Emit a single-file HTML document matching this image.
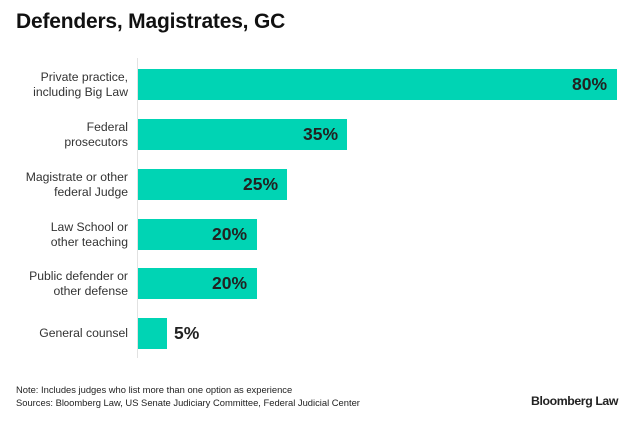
<!DOCTYPE html>
<html><head><style>
body{margin:0;width:633px;height:421px;background:#fff;font-family:"Liberation Sans",sans-serif;position:relative;overflow:hidden}
.t{position:absolute;left:16px;top:10px;font-size:21px;font-weight:bold;color:#111;letter-spacing:-0.2px}
.ax{position:absolute;left:137px;top:58px;width:1px;height:300px;background:#e2e2e2}
.b{position:absolute;left:138px;height:31px;background:#00d4b4}
.v{position:absolute;font-size:17.5px;font-weight:bold;color:#222;line-height:31px}
.l{position:absolute;right:505px;width:140px;text-align:right;font-size:12.2px;color:#333;line-height:15px}
.n{position:absolute;left:16px;font-size:9.4px;color:#222}
.bl{position:absolute;left:531px;top:394px;font-size:12.3px;color:#222;font-weight:bold;letter-spacing:-0.4px}
</style></head><body>
<div class="t">Defenders, Magistrates, GC</div>
<div class="ax"></div>
<div class="b" style="top:69px;width:479px"></div><div class="v" style="top:69px;left:572px">80%</div>
<div class="b" style="top:119px;width:209px"></div><div class="v" style="top:119px;left:303px">35%</div>
<div class="b" style="top:169px;width:149px"></div><div class="v" style="top:169px;left:243px">25%</div>
<div class="b" style="top:219px;width:119px"></div><div class="v" style="top:219px;left:212px">20%</div>
<div class="b" style="top:268px;width:119px"></div><div class="v" style="top:268px;left:212px">20%</div>
<div class="b" style="top:318px;width:29px"></div><div class="v" style="top:318px;left:174px">5%</div>
<div class="l" style="top:70px">Private practice,<br>including Big Law</div>
<div class="l" style="top:120px">Federal<br>prosecutors</div>
<div class="l" style="top:170px">Magistrate or other<br>federal Judge</div>
<div class="l" style="top:220px">Law School or<br>other teaching</div>
<div class="l" style="top:269px">Public defender or<br>other defense</div>
<div class="l" style="top:326px">General counsel</div>
<div class="n" style="top:384px">Note: Includes judges who list more than one option as experience</div>
<div class="n" style="top:397px">Sources: Bloomberg Law, US Senate Judiciary Committee, Federal Judicial Center</div>
<div class="bl">Bloomberg Law</div>
</body></html>
